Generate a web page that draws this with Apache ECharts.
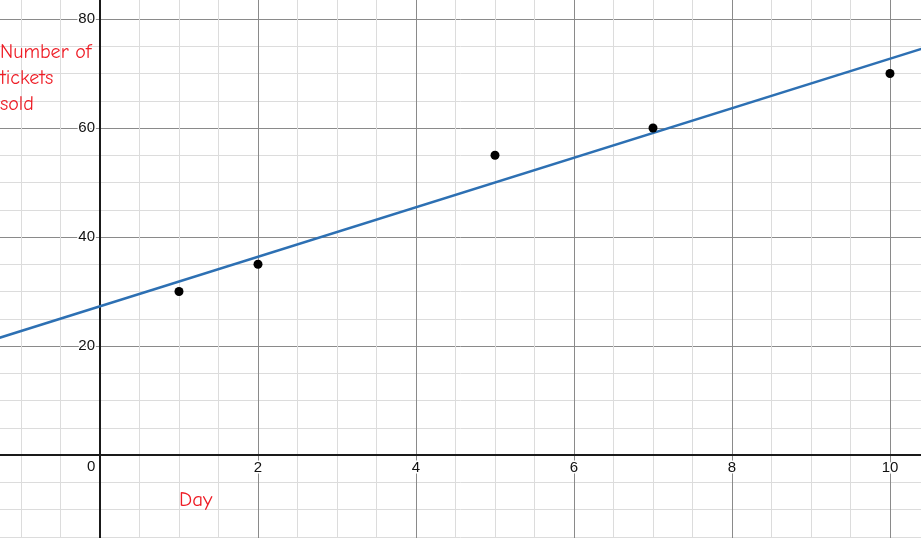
<!DOCTYPE html>
<html><head><meta charset="utf-8">
<script src="https://cdn.jsdelivr.net/npm/echarts@6/dist/echarts.min.js"></script>
<style>html,body{margin:0;padding:0;background:#fff}#c{width:921px;height:538px}</style>
</head><body><div id="c"></div>
<script>
const days = [1, 2, 5, 7, 10];
const tickets = [30, 35, 55, 60, 70];
const trendX = [-2, 12];
const trendY = [18.2, 81.8];
const yAxisTitle = 'Number of\ntickets\nsold';
const xAxisTitle = 'Day';

const chart = echarts.init(document.getElementById('c'), null, {renderer: 'canvas'});
const labelFont = '"Liberation Sans", Arial, sans-serif';
const titleFont = '"Comic Sans MS", "Comic Neue", "DejaVu Sans", sans-serif';
const tickLabel = {color: '#111', fontSize: 15, fontFamily: labelFont, margin: 5,
  textBorderColor: '#fff', textBorderWidth: 3,
  formatter: v => (v === 0 ? '' : String(v))};
const option = {
  animation: false,
  backgroundColor: '#fff',
  grid: {left: -58, right: -127, top: -90, bottom: -26, outerBoundsMode: 'none'},
  xAxis: {
    type: 'value', min: -2, max: 12, interval: 2,
    axisLine: {onZero: false, lineStyle: {color: '#1a1a1a', width: 2}},
    axisTick: {show: false},
    axisLabel: tickLabel,
    splitLine: {show: true, lineStyle: {color: '#8a8a8a', width: 1}},
    minorTick: {show: false, splitNumber: 4},
    minorSplitLine: {show: true, lineStyle: {color: '#dcdcdc', width: 1}}
  },
  yAxis: {
    type: 'value', min: -20, max: 100, interval: 20,
    axisLine: {onZero: false, lineStyle: {color: '#1a1a1a', width: 2}},
    axisTick: {show: false},
    axisLabel: tickLabel,
    splitLine: {show: true, lineStyle: {color: '#8a8a8a', width: 1}},
    minorTick: {show: false, splitNumber: 4},
    minorSplitLine: {show: true, lineStyle: {color: '#dcdcdc', width: 1}}
  },
  series: [
    {
      type: 'line', data: trendX.map((x, i) => [x, trendY[i]]),
      showSymbol: false, symbol: 'none',
      lineStyle: {color: '#2d70b3', width: 2.5}, z: 3
    },
    {
      type: 'scatter', data: days.map((d, i) => [d, tickets[i]]),
      symbolSize: 9, itemStyle: {color: '#000', opacity: 1}, z: 4
    }
  ]
};
chart.setOption(option);

const o = chart.convertToPixel({gridIndex: 0}, [0, 0]);
const corner = chart.convertToPixel({gridIndex: 0}, [option.xAxis.min, option.yAxis.min]);
const t = chart.convertToPixel({gridIndex: 0}, [1.0, -8.6]);
chart.setOption({
  xAxis: {offset: -(corner[1] - o[1])},
  yAxis: {offset: -(o[0] - corner[0])},
  graphic: [
    {type: 'text', left: o[0] - 13, top: o[1] + 4,
      style: {text: '0', fill: '#111', font: '15px ' + labelFont}},
    {type: 'text', left: 0, top: 39,
      style: {text: yAxisTitle, fill: '#ee1c25', fontSize: 20, lineHeight: 26,
        fontFamily: titleFont}},
    {type: 'text', left: t[0], top: t[1] - 12,
      style: {text: xAxisTitle, fill: '#ee1c25', fontSize: 21, fontFamily: titleFont}}
  ]
});
</script></body></html>
